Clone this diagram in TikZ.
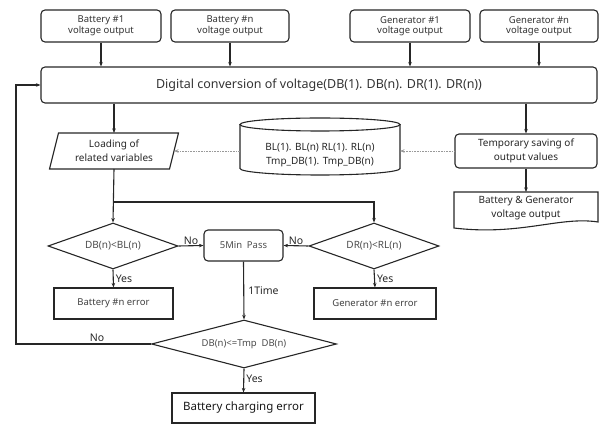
\documentclass[tikz,border=0pt]{standalone}
\usepackage{fontspec}
\setmainfont{Noto Sans}
\usetikzlibrary{arrows.meta,shapes.geometric}
\begin{document}
\begin{tikzpicture}[x=1pt,y=-1pt,
  line/.style={draw=black!85, line width=1.1pt},
  arr/.style={line, -{Stealth[length=4.5pt,width=3.5pt]}},
  darr/.style={draw=black!40, line width=0.8pt, dash pattern=on 0.8pt off 0.8pt, -{Stealth[length=4.5pt,width=3.5pt]}},
  rbox/.style={line, rectangle, rounded corners=4pt, align=center, inner sep=0pt, text=black!80},
  sbox/.style={line, rectangle, align=center, inner sep=0pt, text=black!75},
  dia/.style={line, diamond, inner sep=0pt, text=black!70},
  txt/.style={align=center, inner sep=0pt, text=black!85},
  lbl/.style={inner sep=0pt, text=black!85, font=\fontsize{10.5}{12}\selectfont},
  small/.style={font=\fontsize{9.5}{10.5}\selectfont},
  mid/.style={font=\fontsize{10}{14}\selectfont},
]
\useasboundingbox (0,0) rectangle (603,427);

% top inputs
\node[rbox, small, minimum width=120pt, minimum height=32pt] (b1) at (101,26) {Battery \#1\\voltage output};
\node[rbox, small, minimum width=118pt, minimum height=32pt] (bn) at (230,26) {Battery \#n\\voltage output};
\node[rbox, small, minimum width=120pt, minimum height=32pt] (g1) at (410,26) {Generator \#1\\voltage output};
\node[rbox, small, minimum width=118pt, minimum height=32pt] (gn) at (539,26) {Generator \#n\\voltage output};

% digital conversion
\node[rbox, font=\fontsize{12.5}{14}\selectfont, minimum width=556pt, minimum height=36pt] (dig) at (319,85) {Digital conversion of voltage(DB(1). DB(n). DR(1). DR(n))};

\foreach \n in {b1,bn,g1,gn} \draw[arr] (\n.south) -- (\n.south |- dig.north);

% loading (parallelogram)
\draw[line] (58.5,133) -- (178.5,133) -- (169.5,169) -- (49.5,169) -- cycle;
\node[txt, mid] (load) at (114,151) {Loading of\\related variables};
\coordinate (loadN) at (114,133);
\coordinate (loadS) at (114,169);
\coordinate (loadR) at (174,151);

% cylinder
\draw[line] (240,124.5) -- (240,168.5) arc[start angle=180, end angle=360, x radius=80pt, y radius=6.5pt] -- (400,124.5);
\draw[line] (320,124.5) ellipse[x radius=80pt, y radius=6.5pt];
\node[txt, mid] (cyl) at (320,155) {BL(1). BL(n) RL(1). RL(n)\\Tmp\_DB(1). Tmp\_DB(n)};
\coordinate (cylL) at (240,151);
\coordinate (cylR) at (400,151);

% temporary saving
\node[rbox, mid, minimum width=142pt, minimum height=34pt, text=black!85] (tmp) at (526,151) {Temporary saving of\\output values};

% document output
\draw[line] (454,192) -- (598,192) -- (598,222) .. controls (560,216) and (520,236) .. (454,228) -- cycle;
\node[txt, mid] (doc) at (526,208) {Battery \& Generator\\voltage output};
\coordinate (docN) at (526,192);

\draw[arr] (dig.south -| loadN) -- (loadN);
\draw[arr] (dig.south -| tmp.north) -- (tmp.north);
\draw[arr] (tmp.south) -- (docN);
\draw[darr] (tmp.west) -- (cylR);
\draw[darr] (cylL) -- (loadR);

% decisions
\node[dia, aspect=2.8, font=\fontsize{10}{11}\selectfont, minimum width=130pt, minimum height=46pt] (d1) at (113,246) {DB(n)<BL(n)};
\node[dia, aspect=2.8, font=\fontsize{10}{11}\selectfont, minimum width=130pt, minimum height=46pt] (d2) at (374,246) {DR(n)<RL(n)};
\node[rbox, font=\fontsize{9.5}{11}\selectfont, text=black!70, minimum width=79pt, minimum height=31pt] (pass) at (243.5,245.5) {5Min\enspace Pass};

\coordinate (split) at (114,202);
\draw[arr] (loadS) -- (d1.north);
\draw[arr] (split) -| (d2.north);

\draw[arr] (d1.east) -- node[lbl, above=1pt] (no1) {No} (pass.west);
\draw[arr] (d2.west) -- node[lbl, above=1pt] (no2) {No} (pass.east);

% error boxes
\node[sbox, font=\fontsize{9.5}{11}\selectfont, minimum width=119pt, minimum height=31pt] (berr) at (113.5,303.5) {Battery \#n error};
\node[sbox, font=\fontsize{9.5}{11}\selectfont, minimum width=122pt, minimum height=31pt] (gerr) at (375,303.5) {Generator \#n error};
\draw[arr] (d1.south) -- node[lbl, pos=0.5, right=2pt] (y1) {Yes} (berr.north);
\draw[arr] (d2.south) -- node[lbl, pos=0.5, right=2pt] (y2) {Yes} (gerr.north);

% final decision
\node[dia, aspect=3.85, font=\fontsize{9.5}{11}\selectfont, minimum width=185pt, minimum height=48pt] (d3) at (244,344) {DB(n)<=Tmp\enspace DB(n)};
\draw[arr] (pass.south) -- node[lbl, pos=0.5, right=4pt] (once) {1Time} (d3.north);

\node[sbox, font=\fontsize{11.5}{13}\selectfont, text=black!90, minimum width=143pt, minimum height=30pt] (cherr) at (243.5,408) {Battery charging error};
\draw[arr] (d3.south) -- node[lbl, pos=0.45, right=2pt] (y3) {Yes} (cherr.north);

% feedback loop
\coordinate (fb1) at (16,344);
\coordinate (fb2) at (16,85);
\draw[arr] (d3.west) -- node[lbl, above=2pt, pos=0.4] (no3) {No} (fb1) -- (fb2) -- (dig.west);
\end{tikzpicture}
\end{document}
